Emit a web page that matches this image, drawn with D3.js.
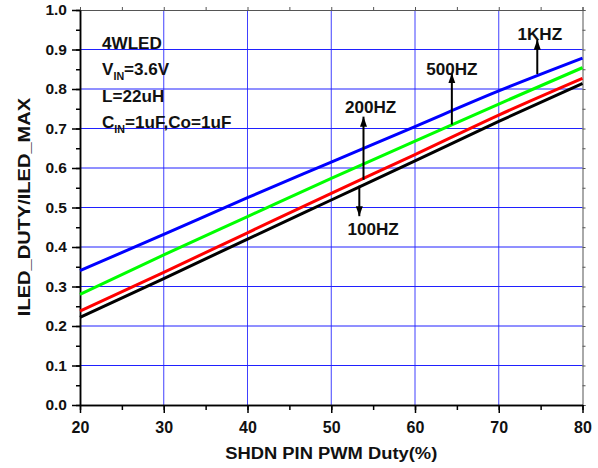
<!DOCTYPE html>
<html>
<head>
<meta charset="utf-8">
<script src="https://cdn.jsdelivr.net/npm/d3@7"></script>
<style>
html,body{margin:0;padding:0;background:#fff;}
svg{display:block;font-family:"Liberation Sans",Arial,sans-serif;font-weight:bold;}
</style>
</head>
<body>
<svg id="chart" width="598" height="468"></svg>
<script>
// ---- data ----
const duty = [20, 30, 40, 50, 60, 70, 80];
const f1k   = [0.340, 0.432, 0.525, 0.615, 0.705, 0.795, 0.878];
const f500  = [0.280, 0.380, 0.477, 0.574, 0.668, 0.762, 0.854];
const f200  = [0.238, 0.336, 0.436, 0.536, 0.634, 0.734, 0.827];
const f100  = [0.222, 0.320, 0.420, 0.519, 0.618, 0.718, 0.814];
const seriesNames = ["100HZ", "200HZ", "500HZ", "1KHZ"];
const seriesColors = ["#000000", "#ff0000", "#00ff00", "#0000ff"];
const xTicks = [20, 30, 40, 50, 60, 70, 80];
const yTicks = [0.0, 0.1, 0.2, 0.3, 0.4, 0.5, 0.6, 0.7, 0.8, 0.9, 1.0];
// annotation arrows: label, x, arrow start y, arrow tip y, label position
const annLabels = ["200HZ", "100HZ", "500HZ", "1KHZ"];
const annX      = [53.85, 53.35, 64.4, 74.6];
const annFrom   = [0.570, 0.555, 0.710, 0.838];
const annTo     = [0.730, 0.478, 0.840, 0.925];
const annLabelX = [54.7, 55.0, 64.4, 74.9];
const annLabelY = [0.738, 0.430, 0.835, 0.923];
const infoLines = ["4WLED", "V|IN|=3.6V", "L=22uH", "C|IN|=1uF,Co=1uF"];

const svg = d3.select("#chart");
const x = d3.scaleLinear().domain([20, 80]).range([80, 582.5]);
const y = d3.scaleLinear().domain([0, 1]).range([405, 10]);

// grid
const g = svg.append("g");
g.selectAll("line.gx").data(xTicks.slice(1, -1)).join("line")
  .attr("x1", d => x(d)).attr("x2", d => x(d)).attr("y1", y(0)).attr("y2", y(1))
  .attr("stroke", "#4040ff").attr("stroke-width", 1);
g.selectAll("line.gy").data(yTicks.slice(1, -1)).join("line")
  .attr("y1", d => y(d)).attr("y2", d => y(d)).attr("x1", x(20)).attr("x2", x(80))
  .attr("stroke", "#2020ff").attr("stroke-width", 1);

// top / right frame
const minorX = d3.range(20, 80.01, 5);
const minorY = d3.range(0, 1.001, 0.05);
const topAxis = d3.axisTop(x).tickValues(minorX).tickSize(3).tickFormat("");
svg.append("g").attr("transform", `translate(0,${y(1)})`).call(topAxis)
  .call(s => s.selectAll("line,path").attr("stroke", "#555"));
const rightAxis = d3.axisRight(y).tickValues(minorY).tickSize(3).tickFormat("");
svg.append("g").attr("transform", `translate(${x(80)},0)`).call(rightAxis)
  .call(s => s.selectAll("line,path").attr("stroke", "#555"));

// bottom axis
const bottomMinor = d3.axisBottom(x).tickValues(minorX).tickSize(5).tickFormat("").tickSizeOuter(0);
svg.append("g").attr("transform", `translate(0,${y(0)})`).call(bottomMinor)
  .call(s => s.selectAll("line,path").attr("stroke", "#000").attr("stroke-width", 1.5));
const bottomAxis = d3.axisBottom(x).tickValues(xTicks).tickSize(8).tickSizeOuter(0).tickPadding(9);
svg.append("g").attr("transform", `translate(0,${y(0)})`).call(bottomAxis)
  .call(s => {
    s.select("path").attr("stroke", "#000").attr("stroke-width", 1.5);
    s.selectAll("line").attr("stroke", "#000").attr("stroke-width", 1.5);
    s.selectAll("text").attr("font-size", 16).attr("font-weight", "bold").attr("fill", "#111")
      .attr("font-family", "Liberation Sans, Arial, sans-serif");
  });

// left axis
const leftMinor = d3.axisLeft(y).tickValues(minorY).tickSize(4).tickFormat("").tickSizeOuter(0);
svg.append("g").attr("transform", `translate(${x(20)},0)`).call(leftMinor)
  .call(s => s.selectAll("line,path").attr("stroke", "#000").attr("stroke-width", 1.5));
const leftAxis = d3.axisLeft(y).tickValues(yTicks).tickSize(8).tickSizeOuter(0).tickPadding(5)
  .tickFormat(d3.format(".1f"));
svg.append("g").attr("transform", `translate(${x(20)},0)`).call(leftAxis)
  .call(s => {
    s.select("path").attr("stroke", "#000").attr("stroke-width", 1.5);
    s.selectAll("line").attr("stroke", "#000").attr("stroke-width", 1.5);
    s.selectAll("text").attr("font-size", 15.5).attr("font-weight", "bold").attr("fill", "#111")
      .attr("font-family", "Liberation Sans, Arial, sans-serif");
  });

// series
const allSeries = [f100, f200, f500, f1k];
const line = d3.line().x((d, i) => x(duty[i])).y(d => y(d)).curve(d3.curveMonotoneX);
svg.append("g").selectAll("path").data(allSeries).join("path")
  .attr("d", d => line(d)).attr("fill", "none")
  .attr("stroke", (d, i) => seriesColors[i]).attr("stroke-width", 3);

// annotations
svg.append("defs").append("marker").attr("id", "ah")
  .attr("viewBox", "0 0 10 10").attr("refX", 10).attr("refY", 5)
  .attr("markerWidth", 10).attr("markerHeight", 10).attr("markerUnits", "userSpaceOnUse")
  .attr("orient", "auto")
  .append("path").attr("d", "M0,1.5 L10,5 L0,8.5 Z").attr("fill", "#000");
const ann = svg.append("g");
annLabels.forEach((lab, i) => {
  ann.append("line").attr("x1", x(annX[i])).attr("x2", x(annX[i]))
    .attr("y1", y(annFrom[i])).attr("y2", y(annTo[i]))
    .attr("stroke", "#000").attr("stroke-width", 2).attr("marker-end", "url(#ah)");
  ann.append("text").attr("transform", `translate(${x(annLabelX[i])},${y(annLabelY[i])}) scale(1.07,1)`)
    .attr("text-anchor", "middle").attr("font-size", 16).attr("fill", "#111").text(lab);
});

// info text
const info = svg.append("g");
infoLines.forEach((t, i) => {
  const parts = t.split("|");
  const tx = info.append("text").attr("transform", `translate(102,${48.5 + i * 26.6}) scale(1.07,1)`)
    .attr("font-size", 16).attr("fill", "#111");
  parts.forEach((p, k) => {
    if (k % 2 === 1) {
      tx.append("tspan").attr("font-size", 10).attr("dy", 5).text(p);
    } else {
      const ts = tx.append("tspan").text(p);
      if (k > 0) ts.attr("dy", -5);
    }
  });
});

// axis titles
svg.append("text").attr("transform", `translate(${x(50)},459) scale(1.08,1)`)
  .attr("text-anchor", "middle").attr("font-size", 17).attr("fill", "#111")
  .text("SHDN PIN PWM Duty(%)");
svg.append("text").attr("transform", `translate(30,207) rotate(-90) scale(1.18,1)`)
  .attr("text-anchor", "middle").attr("font-size", 17).attr("fill", "#111")
  .text("ILED_DUTY/ILED_MAX");
</script>
</body>
</html>
